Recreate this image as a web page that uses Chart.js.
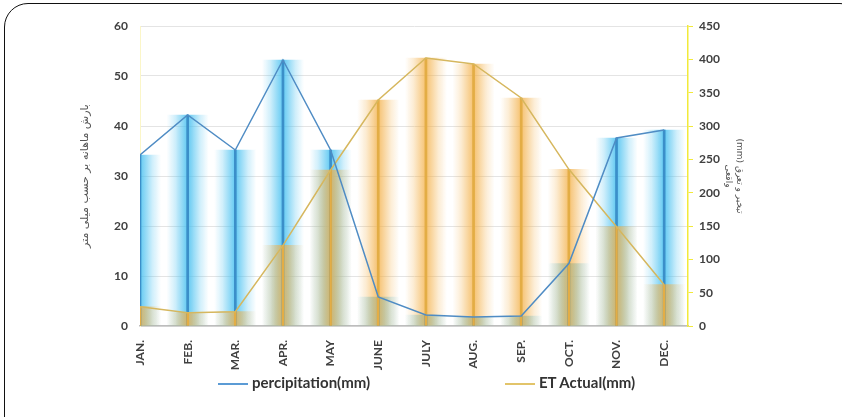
<!DOCTYPE html>
<html>
<head>
<meta charset="utf-8">
<script src="https://cdn.jsdelivr.net/npm/chart.js@4"></script>
<style>
  html, body { margin: 0; padding: 0; background: #fff; overflow: hidden; }
  #wrap { position: relative; width: 842px; height: 417px; }
  #frame {
    position: absolute; left: 4px; top: 3px; width: 860px; height: 440px;
    border: 1.5px solid #111; border-radius: 24px; box-sizing: border-box;
  }
  #chart { position: absolute; left: 0; top: 0; }
  .legend { position: absolute; top: 373px; font: bold 15px Lato, "Open Sans", sans-serif; color: #333; }
  .legend span.swatch { display: inline-block; width: 30px; height: 2px; vertical-align: middle; margin-right: 4px; }
</style>
</head>
<body>
<div id="wrap">
  <div id="frame"></div>
  <canvas id="chart" width="842" height="417"></canvas>
  <div class="legend" style="left:218px"><span class="swatch" style="background:#5b9bd5"></span>percipitation(mm)</div>
  <div class="legend" style="left:505px"><span class="swatch" style="background:#e2c46a"></span>ET Actual(mm)</div>
</div>
<script>
const months = ["JAN.", "FEB.", "MAR.", "APR.", "MAY", "JUNE", "JULY", "AUG.", "SEP.", "OCT.", "NOV.", "DEC."];
const precipitation = [34.2, 42.2, 35.2, 53.2, 35.2, 5.8, 2.2, 1.8, 2.0, 12.5, 37.6, 39.2];
const etActual = [29, 20, 21.5, 121, 234, 339, 402, 393, 342, 235, 149, 62];
const leftTitle = "بارش ماهانه بر حسب میلی متر";
const rightTitle = ["(mm) تبخیر و تعرق", "واقعی"];

const toPoints = (arr) => arr.map((v, i) => ({ x: i, y: v }));

// horizontal "glow" gradient centred on each bar
function glow(rgb, alpha) {
    return (c) => {
        const chart = c.chart;
        if (!chart.chartArea || c.dataIndex === undefined) return `rgba(${rgb},${alpha})`;
        const cx = chart.scales.x.getPixelForValue(c.dataIndex);
        const g = chart.ctx.createLinearGradient(cx - 21, 0, cx + 21, 0);
        g.addColorStop(0, `rgba(${rgb},0)`);
        g.addColorStop(0.2, `rgba(${rgb},${alpha * 0.3})`);
        g.addColorStop(0.5, `rgba(${rgb},${alpha})`);
        g.addColorStop(0.8, `rgba(${rgb},${alpha * 0.3})`);
        g.addColorStop(1, `rgba(${rgb},0)`);
        return g;
    };
}

const tickFont = { family: "Lato, 'Open Sans', sans-serif", size: 12, weight: "bold" };

new Chart(document.getElementById("chart"), {
    data: {
        datasets: [
            {
                type: "line", label: "percipitation(mm)", data: toPoints(precipitation), yAxisID: "y",
                borderColor: "#4f8cc4", borderWidth: 1.5, pointRadius: 0, tension: 0, order: 0,
            },
            {
                type: "line", label: "ET Actual(mm)", data: toPoints(etActual), yAxisID: "y1",
                borderColor: "#d6b75e", borderWidth: 1.5, pointRadius: 0, tension: 0, order: 0,
            },
            {
                type: "bar", data: toPoints(etActual), yAxisID: "y1", barThickness: 2,
                backgroundColor: "#e3ad45", order: 1,
            },
            {
                type: "bar", data: toPoints(precipitation), yAxisID: "y", barThickness: 2,
                backgroundColor: "#3b8fc9", order: 2,
            },
            {
                type: "bar", data: toPoints(etActual), yAxisID: "y1", barThickness: 42,
                backgroundColor: glow("243,176,72", 0.78), order: 3,
            },
            {
                type: "bar", data: toPoints(precipitation), yAxisID: "y", barThickness: 42,
                backgroundColor: glow("70,192,240", 0.85), order: 4,
            },
        ],
    },
    options: {
        responsive: false,
        animation: false,
        layout: { padding: { left: 75, right: 97, top: 26, bottom: 31 } },
        plugins: { legend: { display: false }, tooltip: { enabled: false } },
        datasets: { bar: { grouped: false } },
        scales: {
            x: {
                type: "linear", min: 0, max: 11.5, offset: false,
                afterFit: (s) => { s.height = 60; },
                grid: { display: false, offset: false },
                border: { color: "#bdbdbd", width: 1.5 },
                ticks: {
                    stepSize: 1, autoSkip: false, includeBounds: false, maxTicksLimit: 20,
                    maxRotation: 90, minRotation: 90, padding: 6,
                    color: "#404040", font: tickFont,
                    callback: (v) => (Number.isInteger(v) ? months[v] : ""),
                },
            },
            y: {
                position: "left", min: 0, max: 60,
                afterFit: (s) => { s.width = 65; },
                grid: { color: "#e4e4e4", drawTicks: false },
                border: { color: "#fbf6c8", width: 1 },
                ticks: { stepSize: 10, padding: 12, color: "#404040", font: tickFont },
                title: {
                    display: true, text: leftTitle, color: "#555",
                    font: { family: "'DejaVu Sans', sans-serif", size: 11 }, padding: 4,
                },
            },
            y1: {
                position: "right", min: 0, max: 450,
                afterFit: (s) => { s.width = 57; },
                grid: { drawOnChartArea: false, color: "#f2ea3a", tickLength: 5 },
                border: { color: "#f2ea3a", width: 1.5 },
                ticks: { stepSize: 50, padding: 6, color: "#404040", font: tickFont },
                title: {
                    display: true, text: rightTitle, color: "#555",
                    font: { family: "'DejaVu Sans', sans-serif", size: 9 }, padding: 0,
                },
            },
        },
    },
});
</script>
</body>
</html>
